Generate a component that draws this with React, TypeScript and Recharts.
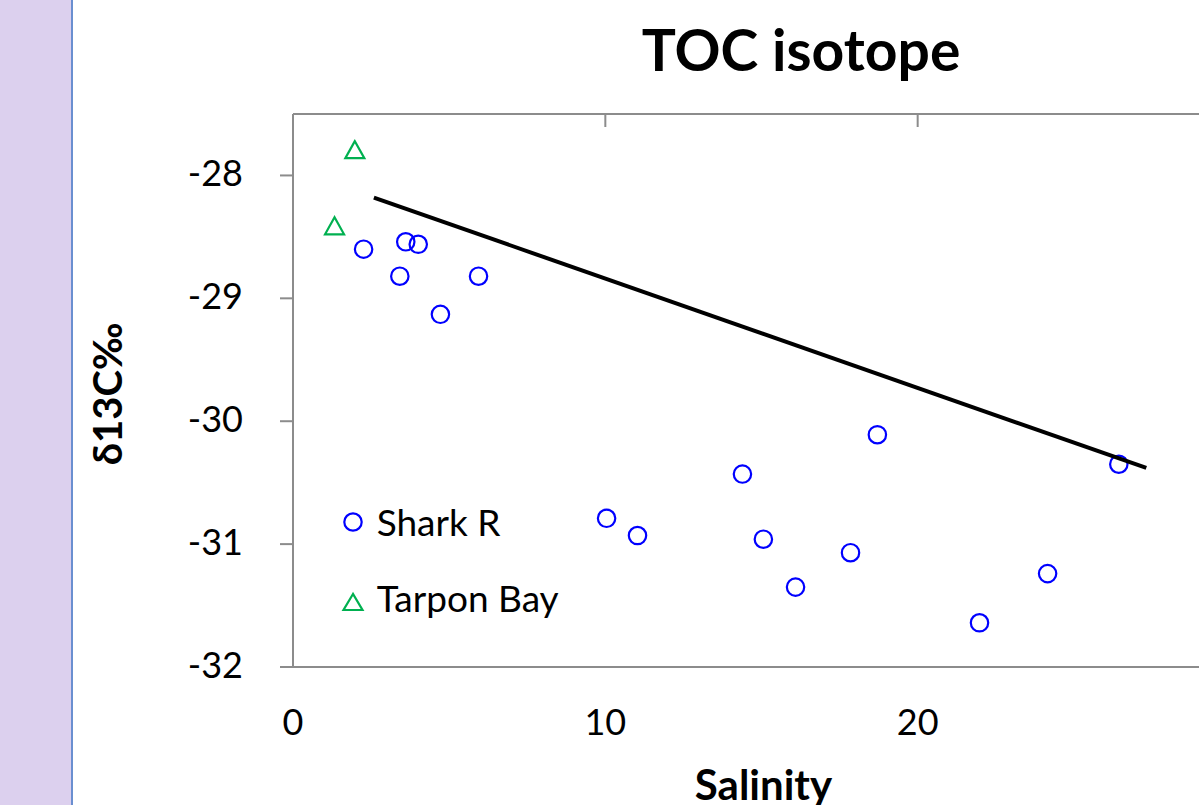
import React from 'react';
import { ScatterChart, Scatter, XAxis, YAxis, Legend } from 'recharts';

// ---- data ----
const sharkSalinity = [2.26, 3.61, 4.01, 3.42, 4.72, 5.94, 10.04, 11.03, 14.39, 15.06, 16.09, 17.85, 18.71, 21.98, 24.16, 26.44];
const sharkD13C = [-28.6, -28.54, -28.56, -28.82, -29.13, -28.82, -30.79, -30.93, -30.43, -30.96, -31.35, -31.07, -30.11, -31.64, -31.24, -30.35];
const tarponSalinity = [1.98, 1.33];
const tarponD13C = [-27.79, -28.41];
const trendSalinity = [2.59, 27.32];
const trendD13C = [-28.18, -30.38];
const xTicks = [0, 10, 20];
const yTicks = [-32, -31, -30, -29, -28];
const seriesNames = ['Shark R', 'Tarpon Bay'];
const chartTitle = 'TOC isotope';
const xTitle = 'Salinity';
const yTitle = 'δ13C‰';

const sharkData = sharkSalinity.map((x, i) => ({ x, y: sharkD13C[i] }));
const tarponData = tarponSalinity.map((x, i) => ({ x, y: tarponD13C[i] }));
const trendData = trendSalinity.map((x, i) => ({ x, y: trendD13C[i] }));

const FONT = 'Lato, "Open Sans", sans-serif';
const AXIS = '#8C8C8C';
const BLUE = '#0000FF';
const GREEN = '#00B050';

const Circle = (p: any) => (
  <circle cx={p.cx} cy={p.cy} r={8.7} fill="none" stroke={BLUE} strokeWidth={2.2} />
);
const Triangle = (p: any) => {
  const { cx, cy } = p;
  const pts = `${cx},${cy - 8.5} ${cx - 9.5},${cy + 8.5} ${cx + 9.5},${cy + 8.5}`;
  return <polygon points={pts} fill="none" stroke={GREEN} strokeWidth={2.2} />;
};
const Nothing = () => <g />;

const renderYTick = (p: any) => (
  <text x={p.x} y={p.y} dy={11} textAnchor="end" fontFamily={FONT} fontSize={36} fill="#000">
    {p.payload.value}
  </text>
);
const renderXTick = (p: any) => (
  <text x={p.x} y={p.y} dy={26} textAnchor="middle" fontFamily={FONT} fontSize={36} fill="#000">
    {p.payload.value}
  </text>
);

const renderYLabel = (p: any) => {
  const vb = p.viewBox || { x: 0, y: 114, width: 293, height: 553 };
  const x = vb.x + 121.5;
  const y = vb.y + vb.height / 2 + 3.5;
  return (
    <text x={x} y={y} transform={`rotate(-90, ${x}, ${y})`} textAnchor="middle" fontFamily={FONT} fontWeight="bold" fontSize={40} fill="#000">
      {yTitle}
    </text>
  );
};
const renderXLabel = (p: any) => {
  const vb = p.viewBox || { x: 293, y: 667, width: 937, height: 100 };
  const x = vb.x + vb.width / 2 + 2;
  return (
    <text x={x} y={800} textAnchor="middle" fontFamily={FONT} fontWeight="bold" fontSize={42} fill="#000">
      {xTitle}
    </text>
  );
};

const LegendBox = () => (
  <svg width={300} height={140} style={{ display: 'block' }}>
    <circle cx={23} cy={32} r={8.7} fill="none" stroke={BLUE} strokeWidth={2.2} />
    <text x={46.7} y={45.5} fontFamily={FONT} fontSize={37} fill="#000">{seriesNames[0]}</text>
    <polygon points={`23,${112 - 8} 13.5,${112 + 8} 32.5,${112 + 8}`} fill="none" stroke={GREEN} strokeWidth={2.2} />
    <text x={46.7} y={122} fontFamily={FONT} fontSize={37} fill="#000">{seriesNames[1]}</text>
  </svg>
);

export default function App() {
  return (
    <div style={{ position: 'fixed', left: 0, top: 0, width: 1199, height: 805, overflow: 'hidden', background: '#fff' }}>
      <div style={{ position: 'absolute', left: 0, top: 0, width: 71, height: 805, background: '#DCD0EE', borderRight: '2px solid #6A8FD0' }} />
      <svg width={1199} height={110} style={{ position: 'absolute', left: 0, top: 0 }}>
        <text x={801} y={71} textAnchor="middle" fontFamily={FONT} fontWeight="bold" fontSize={57} fill="#000">
          {chartTitle}
        </text>
      </svg>
      <div style={{ position: 'absolute', left: 0, top: 0 }}>
        <ScatterChart width={1240} height={805} margin={{ top: 114, right: 10, bottom: 38, left: 0 }}>
          <XAxis
            xAxisId="b"
            type="number"
            dataKey="x"
            domain={[0, 30]}
            allowDataOverflow
            ticks={xTicks}
            orientation="bottom"
            height={100}
            tickLine={false}
            tickSize={0}
            tickMargin={42}
            axisLine={{ stroke: AXIS, strokeWidth: 2 }}
            tick={renderXTick}
            label={renderXLabel}
          />
          <XAxis
            xAxisId="t"
            type="number"
            dataKey="x"
            domain={[0, 30]}
            allowDataOverflow
            ticks={xTicks}
            orientation="top"
            mirror
            height={13}
            tickSize={13}
            tickLine={{ stroke: AXIS, strokeWidth: 2 }}
            axisLine={{ stroke: AXIS, strokeWidth: 2 }}
            tick={Nothing}
          />
          <YAxis
            type="number"
            dataKey="y"
            domain={[-32, -27.5]}
            allowDataOverflow
            ticks={yTicks}
            width={293}
            tickSize={13}
            tickMargin={37}
            tickLine={{ stroke: AXIS, strokeWidth: 2 }}
            axisLine={{ stroke: AXIS, strokeWidth: 2 }}
            tick={renderYTick}
            label={renderYLabel}
          />
          <Legend
            layout="vertical"
            align="center"
            verticalAlign="middle"
            wrapperStyle={{ position: 'absolute', left: 330, top: 490, width: 300, height: 140 }}
            content={<LegendBox />}
          />
          <Scatter name={seriesNames[0]} data={sharkData} xAxisId="b" shape={Circle} isAnimationActive={false} />
          <Scatter name={seriesNames[1]} data={tarponData} xAxisId="b" shape={Triangle} isAnimationActive={false} />
          <Scatter
            name="trend"
            data={trendData}
            xAxisId="t"
            line={{ stroke: '#000', strokeWidth: 4 }}
            shape={Nothing}
            legendType="none"
            isAnimationActive={false}
          />
        </ScatterChart>
      </div>
    </div>
  );
}
